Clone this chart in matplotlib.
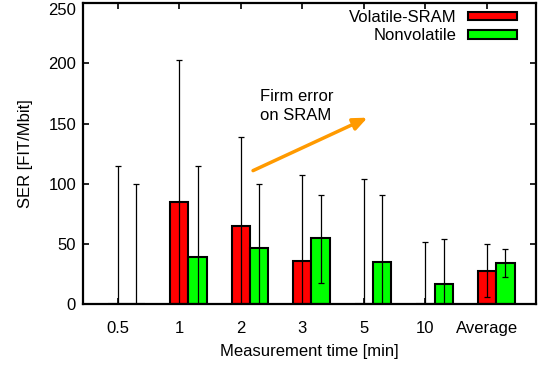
import numpy as np
import matplotlib
matplotlib.use("Agg")
import matplotlib.pyplot as plt

# 数据
categories = ["0.5", "1", "2", "3", "5", "10", "Average"]
sram_val = [0, 85, 65, 36, 0, 0, 28]
sram_hi = [115, 203, 139, 107, 104, 52, 50]
sram_lo = [0, 0, 0, 0, 0, 0, 6]
nv_val = [0, 39, 47, 55, 35, 17, 34]
nv_hi = [100, 115, 100, 91, 91, 54, 46]
nv_lo = [0, 0, 0, 18, 0, 0, 23]

plt.rcParams['font.family'] = ['Liberation Sans', 'DejaVu Sans']
plt.rcParams['font.size'] = 12

fig = plt.figure(figsize=(5.47, 3.67), dpi=100)
ax = fig.add_axes([0.1517, 0.171, 0.8283, 0.82])

x = np.arange(len(categories))
w = 0.3

sram_val = np.array(sram_val)
nv_val = np.array(nv_val)
sram_err = [sram_val - np.array(sram_lo), np.array(sram_hi) - sram_val]
nv_err = [nv_val - np.array(nv_lo), np.array(nv_hi) - nv_val]

ax.bar(x, sram_val, w, color="#ff0000", edgecolor="black", linewidth=1.5,
       label="Volatile-SRAM", zorder=2)
ax.bar(x + w, nv_val, w, color="#00ff00", edgecolor="black", linewidth=1.5,
       label="Nonvolatile", zorder=2)
ax.errorbar(x, sram_val, yerr=sram_err, fmt="none", ecolor="black",
            elinewidth=0.9, capsize=2, capthick=0.9, zorder=3)
ax.errorbar(x + w, nv_val, yerr=nv_err, fmt="none", ecolor="black",
            elinewidth=0.9, capsize=2, capthick=0.9, zorder=3)

ax.set_xlim(-0.564, 6.8)
ax.set_ylim(0, 250)
ax.set_xticks(x)
ax.set_xticklabels(categories)
ax.set_yticks(np.arange(0, 251, 50))
ax.tick_params(direction="in", top=True, right=True, length=4, width=1.2)
ax.tick_params(axis="y", pad=5)
ax.tick_params(axis="x", pad=12)
for s in ax.spines.values():
    s.set_linewidth(1.6)
# 最上面的刻度标签往下挪一点, 免得被裁掉
ax.get_yticklabels()[-1].set_va("top")

ax.set_xlabel("Measurement time [min]", labelpad=6)
ax.set_ylabel("SER [FIT/Mbit]", labelpad=11)

# 注释箭头
ax.annotate("", xy=(4.06, 155), xytext=(2.2, 111),
            arrowprops=dict(arrowstyle="-|>,head_length=0.7,head_width=0.3",
                            color="#ff9a00", lw=2.5, shrinkA=0, shrinkB=0))
ax.text(2.31, 165, "Firm error\non SRAM", ha="left", va="center", linespacing=1.35)

leg = ax.legend(loc="upper right", frameon=False, markerfirst=False,
                handlelength=2.9, handleheight=0.4, handletextpad=0.7,
                labelspacing=0.2, borderaxespad=0.1, borderpad=0.3,
                bbox_to_anchor=(0.972, 1.0))
for t in leg.get_texts():
    t.set_ha("right")

fig.savefig("out.png", dpi=100)
